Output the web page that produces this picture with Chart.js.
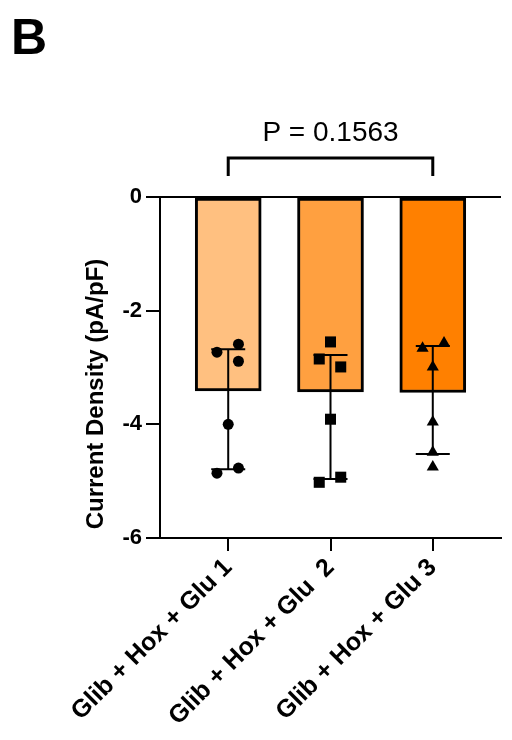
<!DOCTYPE html>
<html>
<head>
<meta charset="utf-8">
<script src="https://cdn.jsdelivr.net/npm/chart.js@4"></script>
<style>
  html, body { margin: 0; padding: 0; background: #fff; }
  #wrap { width: 512px; height: 740px; position: relative; }
</style>
</head>
<body>
<div id="wrap"><canvas id="chart" width="512" height="740"></canvas></div>
<script>
// data (bar = median, whiskers = quartiles)
const categories = ["Glib + Hox + Glu 1", "Glib + Hox + Glu  2", "Glib + Hox + Glu 3"];
const medians = [-3.41, -3.43, -3.44];
const upperQuartile = [-2.68, -2.78, -2.62];
const lowerQuartile = [-4.79, -4.96, -4.52];
const glu1Values = [-2.73, -2.59, -2.89, -4.00, -4.86, -4.77];
const glu2Values = [-2.55, -2.85, -2.99, -3.91, -5.02, -4.93];
const glu3Values = [-2.66, -2.57, -2.99, -3.96, -4.49, -4.75];
// horizontal scatter offsets, in category units
const glu1Jitter = [-0.11, 0.10, 0.10, 0, -0.11, 0.10];
const glu2Jitter = [0, -0.11, 0.10, 0, -0.11, 0.10];
const glu3Jitter = [-0.10, 0.11, 0, 0, 0, 0];
const yTicks = [0, -2, -4, -6];
const pValueLabel = "P = 0.1563";
const panelLabel = "B";
const yTitle = "Current Density (pA/pF)";
const barColors = ["#FFC080", "#FFA040", "#FF8000"];

const FONT = "'Liberation Sans', Arial, Helvetica, sans-serif";
Chart.defaults.font.family = FONT;
Chart.defaults.color = "#000";

const toPoints = (values, jitter, index) =>
  values.map((v, i) => ({ x: index + jitter[i], y: v }));

const annotations = {
  id: "annotations",
  afterDatasetDraw(chart, args) {
    if (args.index !== 0) return;
    const { ctx } = chart;
    const xs = chart.scales.x;
    const ys = chart.scales.y;
    ctx.save();
    ctx.strokeStyle = "#000";
    ctx.lineWidth = 2;
    categories.forEach((_, i) => {
      const x = xs.getPixelForValue(i);
      const top = ys.getPixelForValue(upperQuartile[i]);
      const bottom = ys.getPixelForValue(lowerQuartile[i]);
      ctx.beginPath();
      ctx.moveTo(x, top);
      ctx.lineTo(x, bottom);
      ctx.moveTo(x - 17, top);
      ctx.lineTo(x + 17, top);
      ctx.moveTo(x - 17, bottom);
      ctx.lineTo(x + 17, bottom);
      ctx.stroke();
    });
    ctx.restore();
  },
  afterDraw(chart) {
    const { ctx, chartArea } = chart;
    const xs = chart.scales.x;
    ctx.save();
    // significance bracket
    const x0 = xs.getPixelForValue(0);
    const x2 = xs.getPixelForValue(2);
    const yLine = chartArea.top - 39;
    const yEnd = chartArea.top - 21;
    ctx.strokeStyle = "#000";
    ctx.lineWidth = 3;
    ctx.beginPath();
    ctx.moveTo(x0, yEnd);
    ctx.lineTo(x0, yLine);
    ctx.lineTo(x2, yLine);
    ctx.lineTo(x2, yEnd);
    ctx.stroke();

    ctx.fillStyle = "#000";
    ctx.font = "28px " + FONT;
    ctx.textAlign = "center";
    ctx.textBaseline = "alphabetic";
    ctx.fillText(pValueLabel, xs.getPixelForValue(1), chartArea.top - 56);

    // panel letter
    ctx.font = "bold 50px " + FONT;
    ctx.textAlign = "left";
    ctx.fillText(panelLabel, 11, 54);

    // y axis title
    ctx.translate(96, 394);
    ctx.rotate(-Math.PI / 2);
    ctx.font = "bold 24px " + FONT;
    ctx.textAlign = "center";
    ctx.textBaseline = "middle";
    ctx.fillText(yTitle, 0, 0);
    ctx.restore();
  }
};

new Chart(document.getElementById("chart"), {
  type: "bar",
  data: {
    datasets: [
      {
        type: "bar",
        data: medians.map((m, i) => ({ x: i, y: m })),
        backgroundColor: barColors,
        borderColor: "#000",
        borderWidth: 3,
        borderSkipped: false,
        barThickness: 66,
        order: 2
      },
      {
        type: "scatter",
        data: toPoints(glu1Values, glu1Jitter, 0),
        pointStyle: "circle",
        pointRadius: 5.5,
        backgroundColor: "#000",
        borderWidth: 0,
        order: 1
      },
      {
        type: "scatter",
        data: toPoints(glu2Values, glu2Jitter, 1),
        pointStyle: "rect",
        pointRadius: 7.8,
        backgroundColor: "#000",
        borderWidth: 0,
        order: 1
      },
      {
        type: "scatter",
        data: toPoints(glu3Values, glu3Jitter, 2),
        pointStyle: "triangle",
        pointRadius: 7,
        backgroundColor: "#000",
        borderWidth: 0,
        order: 1
      }
    ]
  },
  options: {
    responsive: false,
    animation: false,
    events: [],
    layout: { padding: { top: 197, right: 11, left: 0, bottom: 0 } },
    plugins: { legend: { display: false }, tooltip: { enabled: false } },
    scales: {
      x: {
        type: "linear",
        offset: false,
        min: -0.667,
        max: 2.667,
        afterBuildTicks: scale => {
          scale.ticks = categories.map((_, i) => ({ value: i }));
        },
        afterFit: scale => {
          scale.height = 202;
        },
        ticks: {
          autoSkip: false,
          maxRotation: 45,
          minRotation: 45,
          padding: 2,
          color: "#000",
          font: { size: 25, weight: "bold" },
          callback: v => categories[v]
        },
        grid: {
          offset: false,
          drawOnChartArea: false,
          color: "#000",
          lineWidth: 2,
          tickLength: 13
        },
        border: { color: "#000", width: 2 }
      },
      y: {
        min: -6,
        max: 0,
        afterBuildTicks: scale => {
          scale.ticks = yTicks.map(v => ({ value: v }));
        },
        afterFit: scale => {
          scale.width = 160;
        },
        ticks: {
          padding: 4,
          color: "#000",
          font: { size: 22, weight: "bold" }
        },
        grid: {
          color: c => (c.tick && c.tick.value === 0 ? "#000" : "rgba(0,0,0,0)"),
          tickColor: "#000",
          lineWidth: 2,
          tickLength: 14
        },
        border: { color: "#000", width: 2 }
      }
    }
  },
  plugins: [annotations]
});
</script>
</body>
</html>
